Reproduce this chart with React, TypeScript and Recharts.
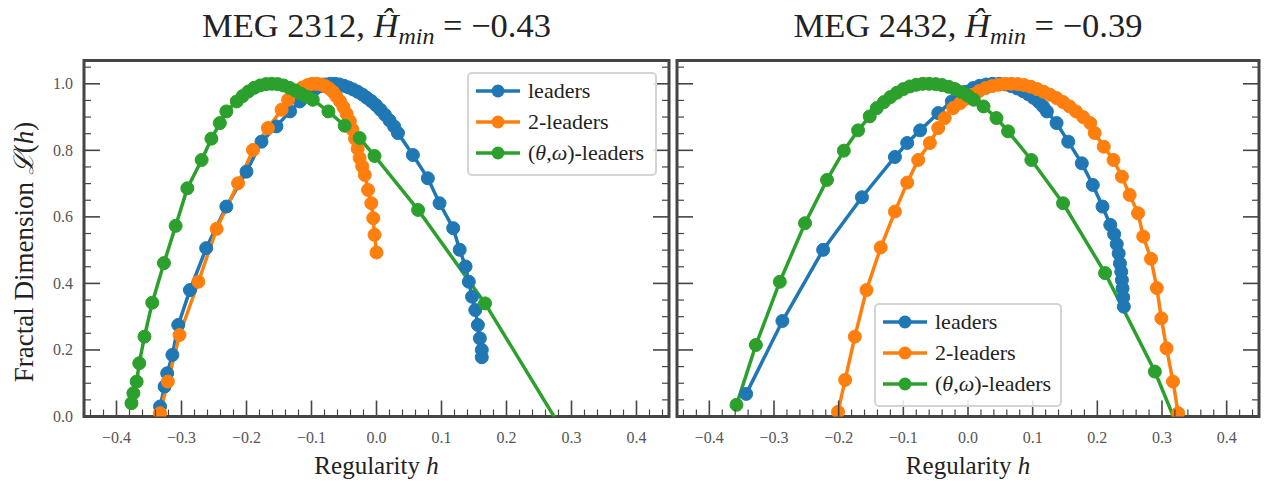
import React from 'react';
import { LineChart, Line, XAxis, YAxis, CartesianGrid, ReferenceArea, Legend } from 'recharts';

const SERIF = '"Liberation Serif", "Times New Roman", serif';
const BLUE = '#1f77b4';
const ORANGE = '#ff7f0e';
const GREEN = '#2ca02c';
const FRAME = '#454545';

// Multifractal spectra, each point is [h, D(h)]
const leaders2312: [number, number][] = [
  [-0.333, 0.03], [-0.326, 0.09], [-0.322, 0.13], [-0.314, 0.185], [-0.305, 0.275], [-0.287, 0.38],
  [-0.262, 0.506], [-0.231, 0.631], [-0.2, 0.736], [-0.177, 0.826], [-0.154, 0.872], [-0.133, 0.917],
  [-0.118, 0.947], [-0.106, 0.968], [-0.096, 0.982], [-0.087, 0.992], [-0.079, 0.998], [-0.071, 1.0],
  [-0.064, 1.0], [-0.057, 0.998], [-0.05, 0.994], [-0.043, 0.989], [-0.036, 0.983], [-0.029, 0.976],
  [-0.022, 0.968], [-0.015, 0.958], [-0.008, 0.948], [-0.001, 0.936], [0.006, 0.922], [0.013, 0.907],
  [0.02, 0.89], [0.027, 0.872], [0.033, 0.852], [0.056, 0.786], [0.079, 0.716], [0.097, 0.641],
  [0.118, 0.566], [0.128, 0.501], [0.137, 0.451], [0.142, 0.405], [0.147, 0.36], [0.152, 0.32],
  [0.156, 0.275], [0.159, 0.235], [0.162, 0.2], [0.162, 0.178],
];
const twoLeaders2312: [number, number][] = [
  [-0.333, 0.01], [-0.321, 0.105], [-0.303, 0.245], [-0.274, 0.405], [-0.246, 0.564], [-0.213, 0.701],
  [-0.19, 0.801], [-0.167, 0.867], [-0.146, 0.922], [-0.136, 0.952], [-0.123, 0.977], [-0.114, 0.989],
  [-0.106, 0.996], [-0.099, 1.0], [-0.092, 1.0], [-0.085, 0.998], [-0.079, 0.993], [-0.073, 0.986],
  [-0.067, 0.976], [-0.062, 0.963], [-0.056, 0.947], [-0.051, 0.93], [-0.046, 0.91], [-0.041, 0.888],
  [-0.037, 0.862], [-0.033, 0.835], [-0.029, 0.805], [-0.026, 0.777], [-0.022, 0.752], [-0.018, 0.726],
  [-0.013, 0.681], [-0.008, 0.641], [-0.005, 0.596], [-0.003, 0.546], [0.0, 0.493],
];
const thetaOmega2312: [number, number][] = [
  [-0.377, 0.04], [-0.374, 0.07], [-0.369, 0.105], [-0.365, 0.16], [-0.357, 0.24], [-0.345, 0.342],
  [-0.327, 0.461], [-0.309, 0.573], [-0.291, 0.686], [-0.269, 0.771], [-0.254, 0.835], [-0.241, 0.882],
  [-0.231, 0.917], [-0.215, 0.947], [-0.206, 0.963], [-0.197, 0.977], [-0.188, 0.988], [-0.179, 0.995],
  [-0.17, 0.999], [-0.161, 1.0], [-0.152, 0.999], [-0.143, 0.995], [-0.134, 0.988], [-0.125, 0.98],
  [-0.116, 0.97], [-0.107, 0.961], [-0.098, 0.952], [-0.074, 0.917], [-0.049, 0.874], [-0.026, 0.837],
  [-0.003, 0.783], [0.064, 0.621], [0.167, 0.34], [0.3, -0.086],
];

const leaders2432: [number, number][] = [
  [-0.343, 0.068], [-0.287, 0.287], [-0.224, 0.501], [-0.164, 0.659], [-0.113, 0.78], [-0.094, 0.822],
  [-0.074, 0.86], [-0.046, 0.912], [-0.025, 0.947], [-0.014, 0.963], [-0.003, 0.976], [0.008, 0.987],
  [0.018, 0.994], [0.028, 0.998], [0.038, 1.0], [0.048, 1.0], [0.058, 0.998], [0.067, 0.993],
  [0.076, 0.986], [0.085, 0.978], [0.093, 0.969], [0.101, 0.958], [0.109, 0.946], [0.116, 0.932],
  [0.122, 0.917], [0.137, 0.882], [0.155, 0.826], [0.176, 0.761], [0.193, 0.696], [0.208, 0.631],
  [0.22, 0.576], [0.226, 0.548], [0.23, 0.518], [0.233, 0.49], [0.235, 0.46], [0.237, 0.435],
  [0.238, 0.41], [0.239, 0.385], [0.24, 0.358], [0.241, 0.33],
];
const twoLeaders2432: [number, number][] = [
  [-0.201, 0.014], [-0.19, 0.11], [-0.175, 0.24], [-0.157, 0.38], [-0.135, 0.508], [-0.113, 0.616],
  [-0.094, 0.703], [-0.077, 0.771], [-0.059, 0.822], [-0.046, 0.867], [-0.036, 0.897], [-0.023, 0.927],
  [-0.012, 0.942], [-0.003, 0.955], [0.007, 0.967], [0.017, 0.978], [0.027, 0.987], [0.037, 0.993],
  [0.047, 0.997], [0.057, 1.0], [0.067, 1.0], [0.077, 0.999], [0.087, 0.996], [0.097, 0.991],
  [0.107, 0.984], [0.117, 0.976], [0.127, 0.967], [0.137, 0.957], [0.147, 0.945], [0.157, 0.932],
  [0.167, 0.917], [0.178, 0.9], [0.189, 0.882], [0.196, 0.852], [0.21, 0.811], [0.225, 0.771],
  [0.238, 0.721], [0.25, 0.666], [0.263, 0.611], [0.271, 0.541], [0.283, 0.474], [0.292, 0.386],
  [0.299, 0.295], [0.307, 0.205], [0.317, 0.105], [0.325, 0.01],
];
const thetaOmega2432: [number, number][] = [
  [-0.358, 0.035], [-0.328, 0.215], [-0.291, 0.405], [-0.252, 0.581], [-0.218, 0.711], [-0.192, 0.799],
  [-0.17, 0.86], [-0.152, 0.902], [-0.141, 0.927], [-0.13, 0.945], [-0.12, 0.96], [-0.11, 0.973],
  [-0.1, 0.984], [-0.09, 0.992], [-0.08, 0.997], [-0.07, 1.0], [-0.06, 1.0], [-0.05, 0.999],
  [-0.04, 0.996], [-0.03, 0.991], [-0.02, 0.984], [-0.01, 0.975], [0.0, 0.964], [0.009, 0.952],
  [0.024, 0.932], [0.044, 0.897], [0.062, 0.857], [0.098, 0.771], [0.147, 0.641], [0.212, 0.431],
  [0.289, 0.135], [0.36, -0.2],
];

const seriesNames = ['leaders', '2-leaders', '(θ,ω)-leaders'];
const seriesColors = [BLUE, ORANGE, GREEN];

const xDomain: [number, number] = [-0.45, 0.45];
const yDomain: [number, number] = [0, 1.07];
const xMajorTicks = [-0.4, -0.3, -0.2, -0.1, 0, 0.1, 0.2, 0.3, 0.4];
const xTickLabels = ['−0.4', '−0.3', '−0.2', '−0.1', '0.0', '0.1', '0.2', '0.3', '0.4'];
const yMajorTicks = [0, 0.2, 0.4, 0.6, 0.8, 1.0];
const yTickLabels = ['0.0', '0.2', '0.4', '0.6', '0.8', '1.0'];
const yGridValues = [0.2, 0.4, 0.6, 0.8, 1.0];
// minor ticks every 0.02 on h and every 0.05 on D
const xTicks = Array.from({ length: 45 }, (_, i) => Math.round((i - 22) * 2) / 100);
const yTicks = Array.from({ length: 22 }, (_, i) => Math.round(i * 5) / 100);

const MAJOR_LEN = 16;
const MINOR_LEN = 7;
const indexOf = (v: number, arr: number[]) => arr.findIndex((t) => Math.abs(t - v) < 1e-6);

const toPoints = (rows: [number, number][]) => rows.map(([h, d]) => ({ h, d }));

function makeXTick(side: 'bottom' | 'top', withLabels: boolean) {
  return (props: any) => {
    const { x, y, payload } = props;
    const idx = indexOf(payload.value, xMajorTicks);
    const major = idx >= 0;
    const dir = side === 'bottom' ? -1 : 1;
    const len = major ? MAJOR_LEN : MINOR_LEN;
    return (
      <g>
        <line x1={x} x2={x} y1={y} y2={y + dir * len} stroke={FRAME} strokeWidth={major ? 1.6 : 1.2} />
        {withLabels && major && (
          <text x={x} y={y + 26.5} textAnchor="middle" fontFamily={SERIF} fontSize={16} fill="#555">
            {xTickLabels[idx]}
          </text>
        )}
      </g>
    );
  };
}

function makeYTick(side: 'left' | 'right', withLabels: boolean) {
  return (props: any) => {
    const { x, y, payload } = props;
    const idx = indexOf(payload.value, yMajorTicks);
    const major = idx >= 0;
    const dir = side === 'left' ? 1 : -1;
    const len = major ? MAJOR_LEN : MINOR_LEN;
    return (
      <g>
        <line x1={x} x2={x + dir * len} y1={y} y2={y} stroke={FRAME} strokeWidth={major ? 1.6 : 1.2} />
        {withLabels && major && (
          <text x={x - 11} y={y + 5.5} textAnchor="end" fontFamily={SERIF} fontSize={16} fill="#555">
            {yTickLabels[idx]}
          </text>
        )}
      </g>
    );
  };
}

function LegendName({ text }: { text: string }) {
  const parts = text.split(/([θω])/);
  return (
    <span>
      {parts.map((p, i) =>
        p === 'θ' || p === 'ω' ? (
          <span key={i} style={{ fontStyle: 'italic' }}>{p}</span>
        ) : (
          <span key={i}>{p}</span>
        )
      )}
    </span>
  );
}

function LegendBox(props: any) {
  const payload = [...(props.payload || [])].sort(
    (a: any, b: any) => seriesNames.indexOf(String(a.value)) - seriesNames.indexOf(String(b.value))
  );
  return (
    <div
      style={{
        border: '2px solid #d4d4d4',
        borderRadius: 5,
        background: 'rgba(255,255,255,0.85)',
        padding: '1px 6px 6px 6px',
        fontFamily: SERIF,
        fontSize: 22,
        color: '#222',
        boxSizing: 'border-box',
        whiteSpace: 'nowrap',
      }}
    >
      {payload.map((entry: any) => (
        <div key={entry.value} style={{ display: 'flex', alignItems: 'center', height: 31 }}>
          <svg width={46} height={20} style={{ flex: 'none' }}>
            <line x1={1} x2={45} y1={10} y2={10} stroke={entry.color} strokeWidth={3.5} />
            <circle cx={23} cy={10} r={6.5} fill={entry.color} />
          </svg>
          <span style={{ marginLeft: 7, lineHeight: '22px' }}>
            <LegendName text={String(entry.value)} />
          </span>
        </div>
      ))}
    </div>
  );
}

interface PanelProps {
  width: number;
  margin: { top: number; right: number; bottom: number; left: number };
  series: [number, number][][];
  legendPos: { left: number; top: number; width: number };
  showYLabels: boolean;
}

function Panel({ width, margin, series, legendPos, showYLabels }: PanelProps) {
  return (
    <LineChart width={width} height={485} margin={margin}>
      <CartesianGrid
        stroke="#d4d4d4"
        strokeWidth={1.8}
        verticalCoordinatesGenerator={(p: any) =>
          p && p.xAxis && typeof p.xAxis.scale === 'function' ? xMajorTicks.map((v) => p.xAxis.scale(v)) : []
        }
        horizontalCoordinatesGenerator={(p: any) =>
          p && p.yAxis && typeof p.yAxis.scale === 'function' ? yGridValues.map((v) => p.yAxis.scale(v)) : []
        }
      />
      <XAxis
        xAxisId={0}
        type="number"
        dataKey="h"
        domain={xDomain}
        ticks={xTicks}
        interval={0}
        allowDataOverflow
        height={1}
        tickSize={0}
        tickMargin={0}
        tickLine={false}
        axisLine={false}
        tick={makeXTick('bottom', true)}
      />
      <XAxis
        xAxisId="top"
        orientation="top"
        type="number"
        domain={xDomain}
        ticks={xTicks}
        interval={0}
        allowDataOverflow
        height={1}
        tickSize={0}
        tickMargin={0}
        tickLine={false}
        axisLine={false}
        tick={makeXTick('top', false)}
      />
      <YAxis
        yAxisId={0}
        type="number"
        domain={yDomain}
        ticks={yTicks}
        interval={0}
        allowDataOverflow
        width={1}
        tickSize={0}
        tickMargin={0}
        tickLine={false}
        axisLine={false}
        tick={makeYTick('left', showYLabels)}
      />
      <YAxis
        yAxisId="right"
        orientation="right"
        type="number"
        domain={yDomain}
        ticks={yTicks}
        interval={0}
        allowDataOverflow
        width={1}
        tickSize={0}
        tickMargin={0}
        tickLine={false}
        axisLine={false}
        tick={makeYTick('right', false)}
      />
      <ReferenceArea
        x1={xDomain[0]}
        x2={xDomain[1]}
        y1={yDomain[0]}
        y2={yDomain[1]}
        fill="none"
        fillOpacity={0}
        stroke={FRAME}
        strokeWidth={3}
        strokeOpacity={1}
      />
      <Legend
        layout="vertical"
        align="center"
        verticalAlign="middle"
        wrapperStyle={{ left: legendPos.left, top: legendPos.top, width: legendPos.width }}
        content={<LegendBox />}
      />
      {series.map((rows, i) => (
        <Line
          key={seriesNames[i]}
          name={seriesNames[i]}
          data={toPoints(rows)}
          dataKey="d"
          type="linear"
          stroke={seriesColors[i]}
          strokeWidth={3.5}
          dot={{ r: 6.5, fill: seriesColors[i], stroke: seriesColors[i], strokeWidth: 1 }}
          activeDot={false}
          isAnimationActive={false}
        />
      ))}
    </LineChart>
  );
}

function Title({ x, meg, hmin }: { x: number; meg: string; hmin: string }) {
  return (
    <text x={x} y={37} textAnchor="middle" fontFamily={SERIF} fontSize={34.5} fill="#222">
      {`MEG ${meg}, `}
      <tspan fontStyle="italic">Ĥ</tspan>
      <tspan fontStyle="italic" fontSize={24} dy={7}>min</tspan>
      <tspan dy={-7}>{` = ${hmin}`}</tspan>
    </text>
  );
}

function XLabel({ x }: { x: number }) {
  return (
    <text x={x} y={474} textAnchor="middle" fontFamily={SERIF} fontSize={25} fill="#222">
      Regularity <tspan fontStyle="italic">h</tspan>
    </text>
  );
}

export default function App() {
  return (
    <div style={{ position: 'absolute', left: 0, top: 0, width: 1270, height: 485, background: '#fff' }}>
      <div style={{ position: 'absolute', left: 0, top: 0 }}>
        <Panel
          width={673}
          margin={{ top: 59.5, right: 3, bottom: 67.5, left: 83 }}
          series={[leaders2312, twoLeaders2312, thetaOmega2312]}
          legendPos={{ left: 467, top: 72, width: 190 }}
          showYLabels
        />
      </div>
      <div style={{ position: 'absolute', left: 673, top: 0 }}>
        <Panel
          width={597}
          margin={{ top: 59.5, right: 10, bottom: 67.5, left: 3 }}
          series={[leaders2432, twoLeaders2432, thetaOmega2432]}
          legendPos={{ left: 201, top: 303, width: 188 }}
          showYLabels={false}
        />
      </div>
      <svg
        width={1270}
        height={485}
        style={{ position: 'absolute', left: 0, top: 0, pointerEvents: 'none' }}
      >
        <Title x={376.5} meg="2312" hmin="−0.43" />
        <Title x={968} meg="2432" hmin="−0.39" />
        <text
          transform="translate(33,252) rotate(-90)"
          textAnchor="middle"
          fontFamily={SERIF}
          fontSize={27}
          fill="#222"
        >
          Fractal Dimension <tspan fontStyle="italic">ℒ</tspan>(<tspan fontStyle="italic">h</tspan>)
        </text>
        <XLabel x={376.5} />
        <XLabel x={968} />
      </svg>
    </div>
  );
}
